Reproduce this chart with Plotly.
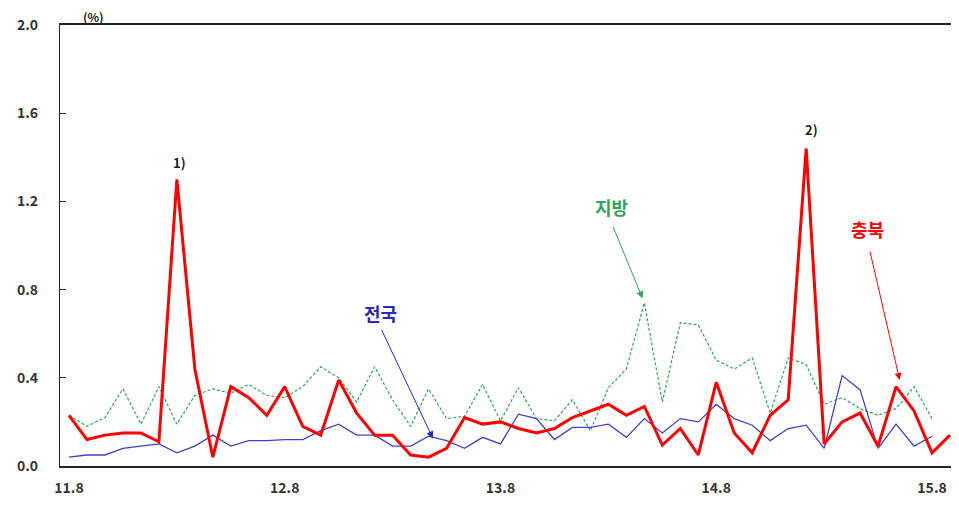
import plotly.graph_objects as go

months = [f"{y}.{m}" for y, m in
          [(11, 8), (11, 9), (11, 10), (11, 11), (11, 12)] +
          [(yy, mm) for yy in (12, 13, 14) for mm in range(1, 13)] +
          [(15, m) for m in range(1, 10)]]

chungbuk = [0.23, 0.12, 0.14, 0.15, 0.15, 0.11, 1.30, 0.44, 0.04, 0.36,
            0.31, 0.23, 0.36, 0.18, 0.14, 0.39, 0.24, 0.14, 0.14, 0.05,
            0.04, 0.08, 0.22, 0.19, 0.20, 0.17, 0.15, 0.17, 0.22, 0.25,
            0.28, 0.23, 0.27, 0.095, 0.17, 0.05, 0.38, 0.15, 0.06, 0.23,
            0.30, 1.44, 0.10, 0.20, 0.24, 0.09, 0.36, 0.25, 0.06, 0.14]

national = [0.04, 0.05, 0.05, 0.08, 0.09, 0.10, 0.06, 0.09, 0.14, 0.09,
            0.115, 0.115, 0.12, 0.12, 0.16, 0.19, 0.14, 0.14, 0.09, 0.09,
            0.135, 0.115, 0.08, 0.13, 0.10, 0.235, 0.215, 0.12, 0.175, 0.175,
            0.19, 0.13, 0.215, 0.15, 0.215, 0.20, 0.28, 0.215, 0.185, 0.115,
            0.17, 0.185, 0.08, 0.41, 0.345, 0.08, 0.19, 0.09, 0.135]

regional = [0.23, 0.18, 0.22, 0.35, 0.19, 0.36, 0.19, 0.32, 0.35, 0.33,
            0.37, 0.32, 0.31, 0.36, 0.45, 0.40, 0.29, 0.45, 0.30, 0.18,
            0.35, 0.215, 0.225, 0.37, 0.205, 0.355, 0.215, 0.205, 0.30, 0.16,
            0.355, 0.44, 0.74, 0.29, 0.65, 0.64, 0.48, 0.44, 0.49, 0.24,
            0.49, 0.46, 0.28, 0.31, 0.26, 0.23, 0.26, 0.36, 0.215]

xtick_labels = ["11.8", "12.8", "13.8", "14.8", "15.8"]
ytick_vals = [0.0, 0.4, 0.8, 1.2, 1.6, 2.0]

FONT = "Noto Sans CJK KR"
RED = "#FF0000"
BLUE = "#4040C8"
GREEN = "#2EA55A"

fig = go.Figure()
fig.add_trace(go.Scatter(x=months[:len(regional)], y=regional, mode="lines",
                         name="지방", line=dict(color=GREEN, width=1.2, dash="3px,2px")))
fig.add_trace(go.Scatter(x=months[:len(national)], y=national, mode="lines",
                         name="전국", line=dict(color=BLUE, width=1.3)))
fig.add_trace(go.Scatter(x=months, y=chungbuk, mode="lines",
                         name="충북", line=dict(color=RED, width=3)))

ann = []
# footnote markers
ann.append(dict(x=6.17, y=1.375, text="1)", showarrow=False,
                font=dict(family=FONT, size=13, color="#222", weight="bold")))
ann.append(dict(x=41.3, y=1.525, text="2)", showarrow=False,
                font=dict(family=FONT, size=13, color="#222", weight="bold")))
# series labels
ann.append(dict(x=30.2, y=1.175, text="지방", showarrow=False,
                font=dict(family=FONT, size=18, color=GREEN, weight="bold")))
ann.append(dict(x=17.3, y=0.695, text="전국", showarrow=False,
                font=dict(family=FONT, size=18, color="#2A2AB0", weight="bold")))
ann.append(dict(x=44.4, y=1.075, text="충북", showarrow=False,
                font=dict(family=FONT, size=18, color=RED, weight="bold")))
# arrows
ann.append(dict(x=31.9, y=0.76, text="", showarrow=True, ax=-30, ay=-73,
                arrowhead=2, arrowsize=1.4, arrowwidth=1, arrowcolor=GREEN))
ann.append(dict(x=20.24, y=0.125, text="", showarrow=True, ax=-52, ay=-110,
                arrowhead=2, arrowsize=1.4, arrowwidth=1, arrowcolor="#2A2AB8"))
ann.append(dict(x=46.2, y=0.39, text="", showarrow=True, ax=-30, ay=-130,
                arrowhead=2, arrowsize=1.4, arrowwidth=1, arrowcolor=RED))
# unit
ann.append(dict(xref="paper", yref="paper", x=0.024, y=1.0, yanchor="bottom",
                yshift=-1, borderpad=0, text="(%)", showarrow=False,
                font=dict(family=FONT, size=12, color="#222", weight="bold")))

fig.update_layout(
    width=951, height=500,
    margin=dict(l=52, r=0, t=17, b=42),
    paper_bgcolor="white", plot_bgcolor="white",
    showlegend=False,
    annotations=ann,
    xaxis=dict(type="category", categoryorder="array", categoryarray=months,
               range=[-0.5, 49.5], tickvals=xtick_labels, ticktext=xtick_labels,
               showgrid=False, zeroline=False, showline=True, linecolor="#222",
               linewidth=1.5, mirror=True, ticks="",
               ticklabelstandoff=8,
               tickfont=dict(family=FONT, size=14, color="#333", weight="bold")),
    yaxis=dict(range=[0, 2.0], tickvals=ytick_vals, tickformat=".1f",
               showgrid=False, zeroline=False, showline=True, linecolor="#222",
               linewidth=1.2, ticks="inside", ticklen=6, tickcolor="#222",
               ticklabelstandoff=18,
               tickfont=dict(family=FONT, size=14, color="#333", weight="bold")),
)

fig.write_html("out.html")
